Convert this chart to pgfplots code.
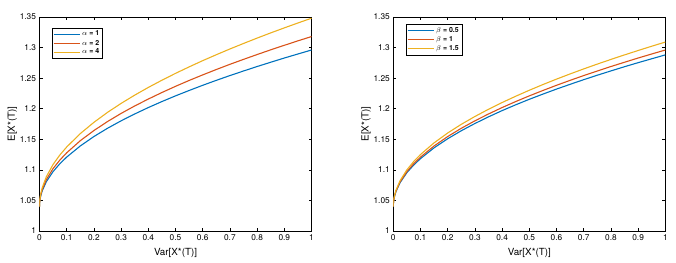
\documentclass[border=0pt]{standalone}
\usepackage{pgfplots}
\pgfplotsset{compat=1.18}
\usepackage{pgfplotstable}
\usepackage{fontspec}
\setmainfont{TeX Gyre Heros}
\definecolor{mb}{rgb}{0,0.447,0.741}
\definecolor{mr}{rgb}{0.85,0.325,0.098}
\definecolor{my}{rgb}{0.929,0.694,0.125}
\pgfplotstableread{
V a1 a2 a4 b05 b1 b15
0 1.040 1.040 1.040 1.040 1.040 1.040
0.0006 1.0463 1.0468 1.0475 1.0461 1.0463 1.0466
0.0025 1.0528 1.0539 1.0554 1.0524 1.0528 1.0535
0.005 1.0581 1.0597 1.0618 1.0575 1.0581 1.0590
0.01 1.0656 1.0678 1.0708 1.0648 1.0656 1.0669
0.025 1.0805 1.0840 1.0887 1.0792 1.0805 1.0825
0.05 1.0972 1.1022 1.1089 1.0955 1.0972 1.1001
0.075 1.1101 1.1161 1.1244 1.1079 1.1101 1.1137
0.1 1.1209 1.1279 1.1374 1.1184 1.1209 1.1251
0.15 1.1391 1.1477 1.1593 1.1361 1.1391 1.1442
0.2 1.1545 1.1643 1.1777 1.1509 1.1545 1.1603
0.25 1.1680 1.1790 1.1940 1.1640 1.1680 1.1745
0.3 1.1802 1.1923 1.2087 1.1758 1.1802 1.1873
0.35 1.1914 1.2045 1.2222 1.1867 1.1914 1.1991
0.4 1.2019 1.2158 1.2348 1.1969 1.2019 1.2101
0.45 1.2117 1.2265 1.2466 1.2064 1.2117 1.2204
0.5 1.2210 1.2366 1.2578 1.2154 1.2210 1.2302
0.55 1.2298 1.2462 1.2684 1.2239 1.2298 1.2395
0.6 1.2383 1.2553 1.2786 1.2321 1.2383 1.2484
0.65 1.2464 1.2641 1.2883 1.2399 1.2464 1.2569
0.7 1.2542 1.2726 1.2977 1.2475 1.2542 1.2651
0.75 1.2617 1.2807 1.3067 1.2548 1.2617 1.2730
0.8 1.2690 1.2886 1.3155 1.2618 1.2690 1.2806
0.85 1.2760 1.2963 1.3240 1.2687 1.2760 1.2880
0.9 1.2829 1.3037 1.3322 1.2753 1.2829 1.2952
0.95 1.2895 1.3110 1.3402 1.2817 1.2895 1.3022
1 1.2960 1.3180 1.3480 1.2880 1.2960 1.3090
}\data
\pgfplotsset{
  myax/.style={
    scale only axis, width=272pt, height=214pt,
    anchor=south west,
    xmin=0, xmax=1, ymin=1, ymax=1.35,
    xtick={0,0.1,...,1.01},
    xticklabels={0,0.1,0.2,0.3,0.4,0.5,0.6,0.7,0.8,0.9,1},
    ytick={1,1.05,1.1,1.15,1.2,1.25,1.3,1.35},
    yticklabels={1,1.05,1.1,1.15,1.2,1.25,1.3,1.35},
    tick align=inside, tick pos=both,
    major tick length=3pt,
    tick style={black, line width=0.5pt},
    axis line style={line width=0.6pt},
    ticklabel style={font=\fontsize{8.3}{9}\selectfont},
    label style={font=\fontsize{9.8}{10}\selectfont},
    xlabel={Var[X*(T)]}, ylabel={E[X*(T)]},
    xlabel style={yshift=-1pt},
    ylabel style={yshift=-4pt},
    every axis plot/.append style={line width=1.1pt},
    legend cell align=left,
    legend style={font=\fontsize{7}{8}\selectfont\bfseries, draw=black, line width=0.6pt,
      inner sep=1pt, row sep=-1.5pt, anchor=north west},
    legend image code/.code={\draw[#1] (0pt,0pt) -- (26pt,0pt);},
  }
}
\begin{document}
\begin{tikzpicture}
\useasboundingbox (0,0) rectangle (676pt,262pt);
\begin{axis}[myax, at={(39.5pt,31pt)},
  legend style={at={(0.045,0.95)}}]
\addplot[mb] table[x=V,y=a1]{\data};
\addplot[mr] table[x=V,y=a2]{\data};
\addplot[my] table[x=V,y=a4]{\data};
\legend{$\alpha$ = 1,$\alpha$ = 2,$\alpha$ = 4}
\end{axis}
\begin{axis}[myax, at={(393.3pt,31pt)},
  legend style={at={(0.046,0.966)}}]
\addplot[mb] table[x=V,y=b05]{\data};
\addplot[mr] table[x=V,y=b1]{\data};
\addplot[my] table[x=V,y=b15]{\data};
\legend{$\beta$ = 0.5,$\beta$ = 1,$\beta$ = 1.5}
\end{axis}
\end{tikzpicture}
\end{document}
